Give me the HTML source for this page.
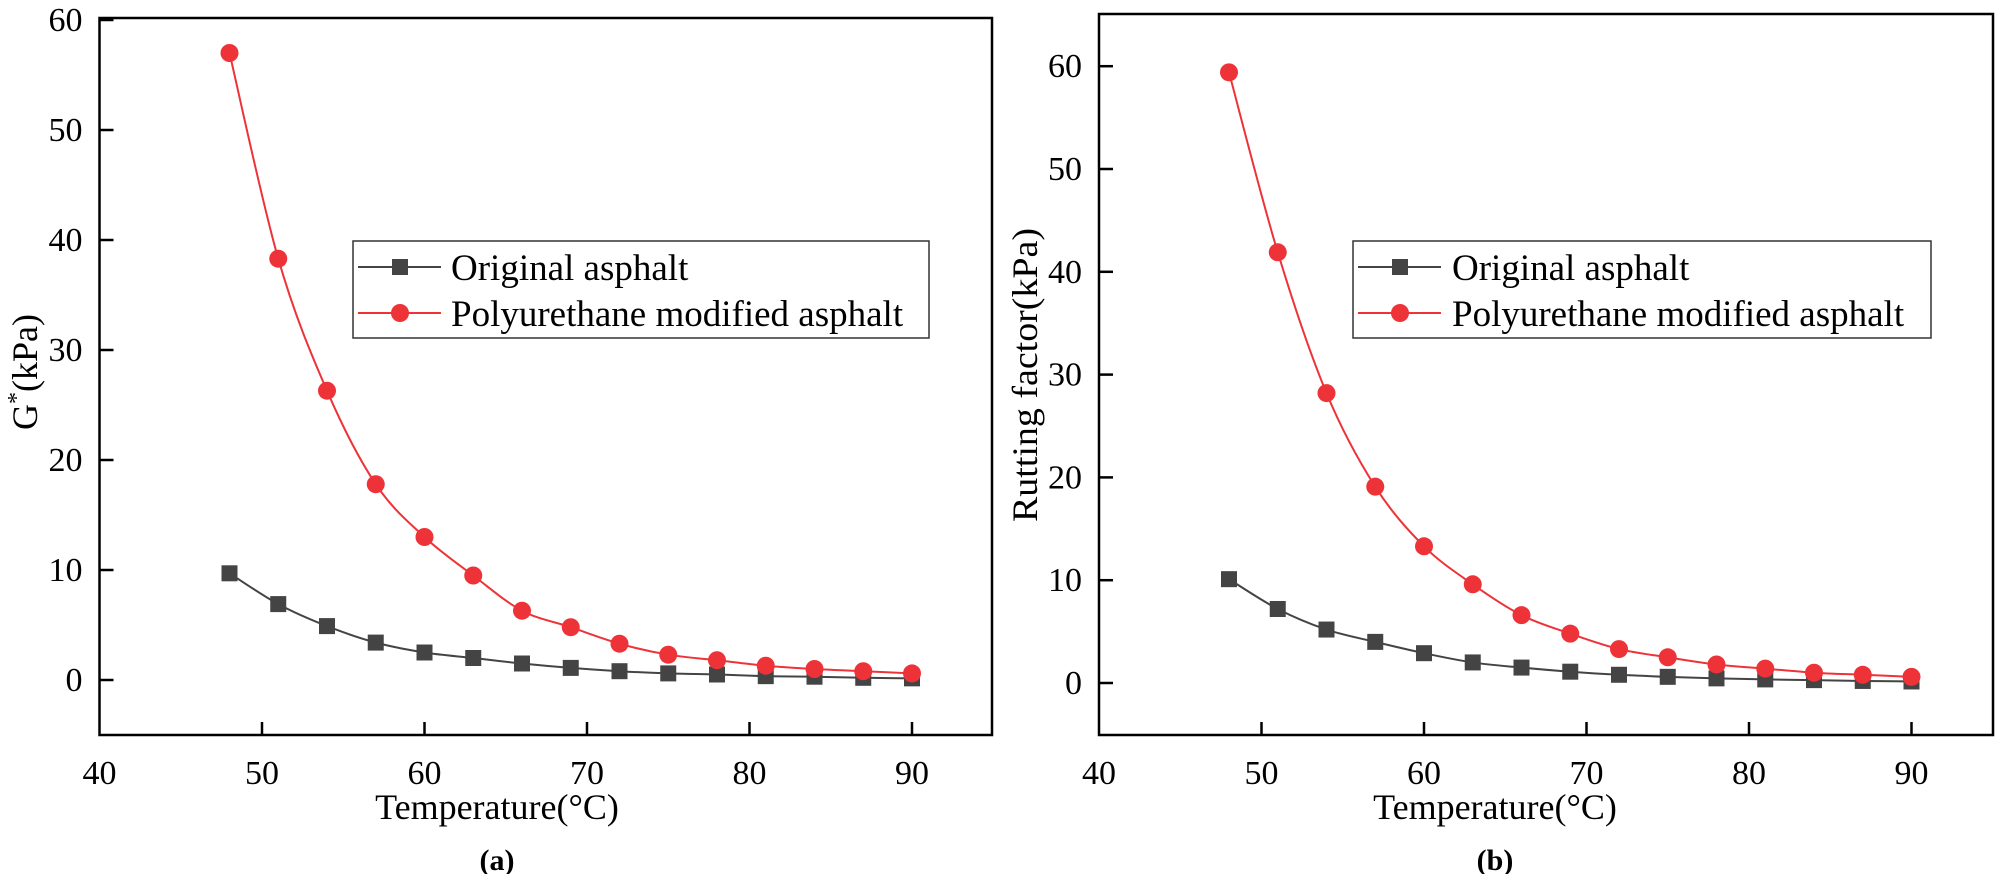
<!DOCTYPE html>
<html><head><meta charset="utf-8"><style>
html,body{margin:0;padding:0;background:#fff}
svg{display:block}
text{font-family:"Liberation Serif","Times New Roman",serif;fill:#000}
</style></head><body>
<svg id="s" width="1999" height="874" font-family="Liberation Serif, serif" xmlns="http://www.w3.org/2000/svg"></svg>
<script>
const S=document.getElementById('s');let h='';
const xs=[48,51,54,57,60,63,66,69,72,75,78,81,84,87,90];
const FF='font-family="Liberation Serif, serif"';
function panel(o){
 const X=x=>o.x0+(x-40)*16.25, Y=v=>o.y0-v*o.k;
 function path(vals,col){
  const p=xs.map((x,i)=>[X(x),Y(vals[i])]);
  let d='M'+p[0][0]+','+p[0][1];
  for(let i=0;i<p.length-1;i++){
   const p0=p[i-1]||p[i],p1=p[i],p2=p[i+1],p3=p[i+2]||p2;
   const c1=[p1[0]+(p2[0]-p0[0])/6,p1[1]+(p2[1]-p0[1])/6];
   const c2=[p2[0]-(p3[0]-p1[0])/6,p2[1]-(p3[1]-p1[1])/6];
   d+=` C${c1[0]},${c1[1]} ${c2[0]},${c2[1]} ${p2[0]},${p2[1]}`;
  }
  h+=`<path d="${d}" fill="none" stroke="${col}" stroke-width="2"/>`;
  return p;
 }
 const pb=path(o.b,'#444');
 pb.forEach(q=>h+=`<rect x="${q[0]-8}" y="${q[1]-8}" width="16" height="16" fill="#444"/>`);
 const pr=path(o.r,'#ee3338');
 pr.forEach(q=>h+=`<circle cx="${q[0]}" cy="${q[1]}" r="9" fill="#ee3338"/>`);
 h+=`<rect x="${o.x0}" y="${o.top}" width="${o.right-o.x0}" height="${735-o.top}" fill="none" stroke="#000" stroke-width="2.5"/>`;
 for(let v=0;v<=60;v+=10){const y=Y(v);
  h+=`<line x1="${o.x0}" y1="${y}" x2="${o.x0+14}" y2="${y}" stroke="#000" stroke-width="2.5"/>`;
  h+=`<text ${FF} x="${o.x0-17}" y="${y+11}" font-size="34" text-anchor="end">${v}</text>`;}
 for(let x=40;x<=90;x+=10){const px=X(x);
  if(x>40)h+=`<line x1="${px}" y1="735" x2="${px}" y2="722" stroke="#000" stroke-width="2.5"/>`;
  h+=`<text ${FF} x="${px}" y="784" font-size="34" text-anchor="middle">${x}</text>`;}
 h+=`<text ${FF} x="${o.tc}" y="819" font-size="36" text-anchor="middle">Temperature(°C)</text>`;
 h+=`<text ${FF} x="${o.tc}" y="870" font-size="30" font-weight="bold" text-anchor="middle">${o.lab}</text>`;
 h+=`<text ${FF} transform="translate(${o.ylx},${o.yly}) rotate(-90)" font-size="36" text-anchor="middle" ${o.tl||''}>${o.yl}</text>`;
 const L=o.L;
 h+=`<rect x="${L.x}" y="241" width="${L.w}" height="97" fill="#fff" stroke="#333" stroke-width="1.5"/>`;
 h+=`<line x1="${L.x+5}" y1="267" x2="${L.x+88}" y2="267" stroke="#444" stroke-width="2"/><rect x="${L.x+39}" y="259" width="16" height="16" fill="#444"/>`;
 h+=`<line x1="${L.x+5}" y1="313" x2="${L.x+88}" y2="313" stroke="#ee3338" stroke-width="2"/><circle cx="${L.x+47}" cy="313" r="9" fill="#ee3338"/>`;
 h+=`<text ${FF} x="${L.tx}" y="280" font-size="37">Original asphalt</text>`;
 h+=`<text ${FF} x="${L.tx}" y="326" font-size="37">Polyurethane modified asphalt</text>`;
}
panel({x0:99.5,y0:680,k:11.0,top:18,right:992,tc:497,lab:'(a)',ylx:37,yly:372,
 yl:'G<tspan font-size="24" dy="-13">*</tspan><tspan dy="13">(kPa)</tspan>',
 r:[57,38.3,26.3,17.8,13,9.5,6.3,4.8,3.3,2.3,1.8,1.3,1.0,0.8,0.6],
 b:[9.7,6.9,4.9,3.4,2.5,2.0,1.5,1.1,0.8,0.6,0.5,0.35,0.3,0.2,0.15],
 L:{x:353,w:576,tx:451}});
panel({x0:1099,y0:683,k:10.28,top:14,right:1993,tc:1495,lab:'(b)',ylx:1037,yly:375,
 yl:'Rutting factor(kPa)',tl:'textLength="294" lengthAdjust="spacingAndGlyphs"',
 r:[59.4,41.9,28.2,19.1,13.3,9.6,6.6,4.8,3.3,2.5,1.8,1.4,1.0,0.8,0.6],
 b:[10.1,7.2,5.2,4.0,2.9,2.0,1.5,1.1,0.8,0.6,0.45,0.35,0.28,0.2,0.15],
 L:{x:1353,w:578,tx:1452}});
S.innerHTML=h;
</script>
</body></html>
